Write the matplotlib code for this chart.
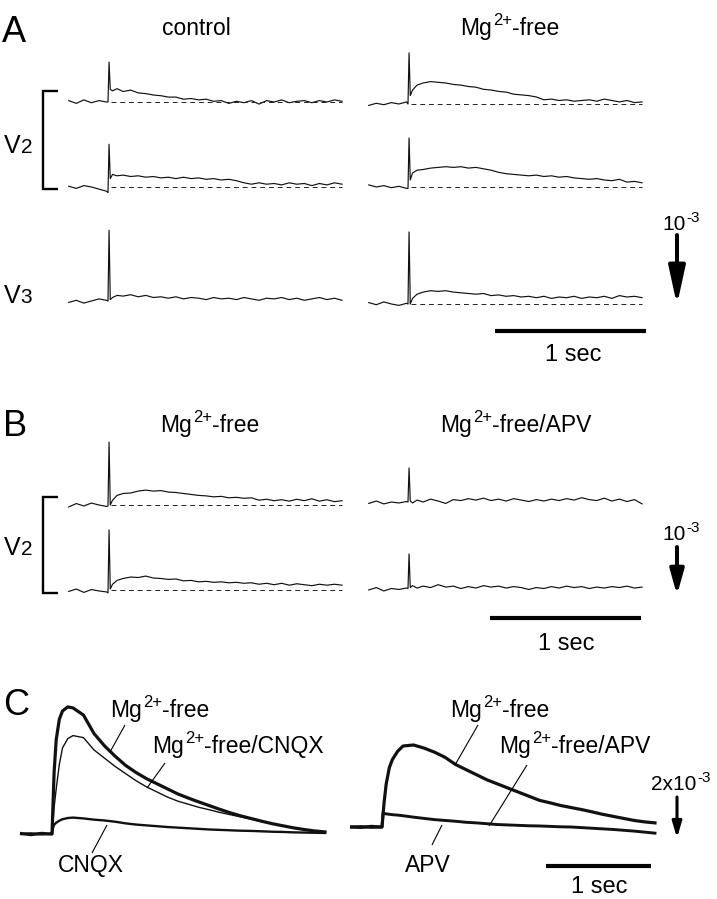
import matplotlib
matplotlib.use('Agg')
import matplotlib.pyplot as plt
from matplotlib.lines import Line2D

plt.rcParams['font.family'] = ['Liberation Sans', 'DejaVu Sans']

# ---------------- data (signal in units of 1e-3, time in s; stimulus at t=0) ----------------
T_AB = [-0.26, -0.21, -0.16, -0.11, -0.06, -0.01, 0.0, 0.007, 0.015, 0.03, 0.06,
        0.1, 0.15, 0.2, 0.25, 0.3, 0.35, 0.4, 0.45, 0.5, 0.55,
        0.6, 0.65, 0.7, 0.75, 0.8, 0.85, 0.9, 0.95, 1.0, 1.05,
        1.1, 1.15, 1.2, 1.25, 1.3, 1.35, 1.4, 1.45, 1.5, 1.55]

a_control_v2_top = [0.02, -0.02, 0.03, -0.01, 0.02, 0.0, 0.0, 0.57, 0.18, 0.16, 0.19,
                    0.15, 0.17, 0.13, 0.12, 0.10, 0.09, 0.07, 0.07, 0.04, 0.05,
                    0.03, 0.04, 0.01, 0.02, -0.02, 0.01, -0.01, 0.02, -0.03, 0.02,
                    0.0, 0.03, -0.01, 0.01, 0.02, -0.01, 0.02, 0.0, 0.03, 0.01]
a_control_v2_bot = [0.01, -0.02, 0.02, 0.0, -0.03, -0.06, -0.08, 0.61, 0.12, 0.18, 0.16,
                    0.17, 0.15, 0.16, 0.14, 0.15, 0.13, 0.14, 0.12, 0.14, 0.12,
                    0.13, 0.11, 0.12, 0.10, 0.11, 0.09, 0.06, 0.04, 0.06, 0.04,
                    0.05, 0.03, 0.06, 0.04, 0.05, 0.02, 0.05, 0.03, 0.06, 0.04]
a_control_v3 = [-0.02, 0.01, -0.03, 0.0, 0.03, 0.01, 0.0, 1.01, 0.02, 0.05, 0.08,
                0.07, 0.09, 0.06, 0.08, 0.05, 0.06, 0.04, 0.06, 0.03, 0.05,
                0.04, 0.02, 0.05, 0.03, 0.04, 0.02, 0.05, 0.03, 0.01, 0.04,
                0.03, 0.05, 0.02, 0.04, 0.01, 0.03, 0.05, 0.02, 0.04, 0.01]
a_mgfree_v2_top = [-0.02, 0.01, -0.01, 0.02, 0.0, 0.03, 0.0, 0.73, 0.12, 0.20, 0.27,
                   0.30, 0.32, 0.31, 0.30, 0.28, 0.27, 0.25, 0.24, 0.21, 0.20,
                   0.18, 0.17, 0.14, 0.13, 0.12, 0.10, 0.06, 0.07, 0.05, 0.06,
                   0.04, 0.05, 0.06, 0.04, 0.07, 0.05, 0.03, 0.05, 0.02, 0.03]
a_mgfree_v2_bot = [0.03, 0.0, 0.02, -0.01, 0.01, -0.02, -0.02, 0.70, 0.10, 0.20, 0.24,
                   0.25, 0.27, 0.28, 0.29, 0.28, 0.29, 0.27, 0.28, 0.26, 0.24,
                   0.21, 0.19, 0.18, 0.17, 0.16, 0.17, 0.15, 0.16, 0.14, 0.15,
                   0.13, 0.12, 0.11, 0.12, 0.10, 0.09, 0.11, 0.07, 0.08, 0.06]
a_mgfree_v3 = [0.02, -0.01, 0.03, 0.0, -0.02, 0.01, 0.0, 1.03, 0.0, 0.08, 0.14,
               0.17, 0.19, 0.18, 0.19, 0.17, 0.16, 0.15, 0.14, 0.15, 0.12,
               0.13, 0.11, 0.12, 0.10, 0.11, 0.09, 0.11, 0.08, 0.10, 0.09,
               0.11, 0.08, 0.10, 0.09, 0.11, 0.08, 0.12, 0.10, 0.11, 0.09]

b_mgfree_v2_top = [-0.04, 0.03, -0.02, 0.04, 0.0, -0.03, -0.02, 1.31, 0.0, 0.10, 0.20,
                   0.24, 0.25, 0.29, 0.31, 0.29, 0.30, 0.27, 0.26, 0.24, 0.22,
                   0.20, 0.19, 0.17, 0.18, 0.15, 0.16, 0.14, 0.15, 0.10, 0.12,
                   0.09, 0.11, 0.08, 0.12, 0.09, 0.13, 0.08, 0.11, 0.07, 0.09]
b_mgfree_v2_bot = [-0.03, 0.02, -0.05, 0.01, -0.02, -0.04, -0.06, 1.25, 0.02, 0.12, 0.20,
                   0.24, 0.27, 0.26, 0.29, 0.25, 0.24, 0.22, 0.23, 0.19, 0.20,
                   0.17, 0.18, 0.16, 0.17, 0.15, 0.16, 0.14, 0.15, 0.12, 0.14,
                   0.11, 0.14, 0.10, 0.13, 0.11, 0.09, 0.12, 0.10, 0.12, 0.10]
b_apv_v2_top = [-0.03, 0.02, -0.04, 0.0, -0.02, 0.01, 0.0, 0.71, 0.02, -0.02, 0.04,
                0.0, 0.06, 0.02, -0.03, 0.05, 0.03, 0.07, 0.04, 0.08, 0.03,
                0.06, 0.02, 0.07, 0.04, 0.01, 0.05, 0.02, 0.06, 0.03, 0.07,
                0.04, 0.09, 0.05, 0.03, 0.08, 0.02, 0.06, 0.01, 0.05, -0.04]
b_apv_v2_bot = [-0.02, 0.03, -0.04, 0.01, -0.01, 0.02, 0.01, 0.73, 0.03, 0.07, 0.02,
                0.06, 0.03, 0.09, 0.04, 0.06, 0.01, 0.05, 0.02, 0.07, 0.04,
                0.06, 0.02, 0.05, 0.03, -0.01, 0.03, 0.01, 0.05, 0.02, 0.06,
                0.03, 0.05, 0.01, 0.04, 0.02, 0.05, 0.03, 0.06, 0.02, 0.04]

T_C = [-0.29, -0.2, -0.1, -0.02, 0.0, 0.01, 0.02, 0.04, 0.07, 0.1, 0.15, 0.2,
       0.3, 0.4, 0.5, 0.6, 0.7, 0.8, 0.9, 1.0, 1.1, 1.2, 1.3, 1.4,
       1.5, 1.6, 1.7, 1.8, 1.9, 2.0, 2.1, 2.2, 2.3, 2.4, 2.5, 2.6]
c_mgfree_l = [0.02, -0.03, 0.03, 0.0, 0.0, 1.5, 3.0, 4.6, 5.6, 6.0, 6.2, 6.15,
              5.8, 4.9, 4.3, 3.8, 3.35, 3.0, 2.7, 2.45, 2.2, 1.95, 1.75, 1.56,
              1.38, 1.2, 1.03, 0.88, 0.75, 0.62, 0.5, 0.4, 0.3, 0.22, 0.15, 0.1]
c_mgfree_cnqx = [0.0, 0.02, -0.02, 0.0, 0.0, 0.6, 1.3, 2.2, 3.4, 4.2, 4.65, 4.8,
                 4.7, 4.1, 3.7, 3.3, 2.95, 2.6, 2.3, 2.05, 1.8, 1.6, 1.45, 1.3,
                 1.18, 1.05, 0.94, 0.83, 0.72, 0.6, 0.5, 0.4, 0.3, 0.22, 0.14, 0.08]
c_cnqx = [0.0, 0.03, -0.02, 0.01, 0.0, 0.3, 0.45, 0.55, 0.65, 0.72, 0.78, 0.8,
          0.76, 0.7, 0.66, 0.6, 0.52, 0.46, 0.42, 0.38, 0.34, 0.31, 0.28, 0.25,
          0.22, 0.2, 0.18, 0.16, 0.15, 0.13, 0.11, 0.1, 0.08, 0.07, 0.06, 0.05]
c_mgfree_r = [0.0, -0.02, 0.03, 0.0, 0.0, 0.6, 1.2, 2.1, 2.9, 3.3, 3.7, 3.95,
              4.0, 3.85, 3.65, 3.4, 3.05, 2.8, 2.55, 2.3, 2.1, 1.9, 1.7, 1.5,
              1.3, 1.18, 1.05, 0.95, 0.85, 0.74, 0.62, 0.52, 0.42, 0.32, 0.25, 0.2]
c_mgfree_apv = [0.0, 0.02, -0.02, 0.0, 0.0, 0.68, 0.66, 0.64, 0.62, 0.6, 0.58, 0.55,
                0.48, 0.42, 0.36, 0.32, 0.28, 0.23, 0.2, 0.16, 0.12, 0.1, 0.08, 0.06,
                0.05, 0.03, 0.01, 0.0, -0.03, -0.06, -0.09, -0.12, -0.16, -0.2, -0.25, -0.3]

SCALE_T = 1.0        # s
SCALE_AB = 1.0       # x1e-3
SCALE_C = 2.0        # x1e-3

# ---------------- layout ----------------
W, H = 717, 899
fig = plt.figure(figsize=(W / 100, H / 100), dpi=100)
fig.patch.set_facecolor('white')
renderer = fig.canvas.get_renderer()


def trace_axes(stim_px, base_px, px_per_s, px_per_unit):
    ax = fig.add_axes([0, 0, 1, 1])
    ax.set_xlim(-stim_px / px_per_s, (W - stim_px) / px_per_s)
    ax.set_ylim((base_px - H) / px_per_unit, base_px / px_per_unit)
    ax.set_axis_off()
    ax.patch.set_alpha(0)
    ax.px = (stim_px, base_px, px_per_s, px_per_unit)
    return ax


def tx(ax, x):
    s, b, ps, pu = ax.px
    return (x - s) / ps


def vy(ax, y):
    s, b, ps, pu = ax.px
    return (b - y) / pu


def ftext(x, y, s, size, ha='left', va='baseline'):
    return fig.text(x / W, 1 - y / H, s, fontsize=size, ha=ha, va=va, color='black')


def text_width(s, size):
    if not s:
        return 0.0
    t = fig.text(0, 0, s, fontsize=size)
    w = t.get_window_extent(renderer).width
    t.remove()
    return w


def sup_text(x_center, y, pre, sup, post, size=16.5, sup_size=12, raise_px=10, gap=1.0):
    """Text with a raised superscript, built from plain text pieces."""
    w1 = text_width(pre, size)
    w2 = text_width(sup, sup_size)
    w3 = text_width(post, size)
    total = w1 + gap + w2 + w3
    x0 = x_center - total / 2
    ftext(x0, y, pre, size)
    ftext(x0 + w1 + gap, y - raise_px, sup, sup_size)
    if post:
        ftext(x0 + w1 + gap + w2, y, post, size)


def fline(xs, ys, lw):
    fig.add_artist(Line2D([x / W for x in xs], [1 - y / H for y in ys],
                          transform=fig.transFigure, color='black', lw=lw,
                          solid_capstyle='butt', solid_joinstyle='miter'))


TRACE_LW = 0.85
DASH = (0, (5, 4))

# panel A and B traces: (stim_px, baseline_px, px/unit, values, dashed)
rows_ab = [
    (108, 102, 70, a_control_v2_top, True),
    (108, 187, 70, a_control_v2_bot, True),
    (108, 301, 70, a_control_v3, False),
    (408, 104, 70, a_mgfree_v2_top, True),
    (408, 187, 70, a_mgfree_v2_bot, True),
    (408, 304, 70, a_mgfree_v3, True),
    (108, 505, 48, b_mgfree_v2_top, True),
    (108, 590, 48, b_mgfree_v2_bot, True),
    (408, 502, 48, b_apv_v2_top, False),
    (408, 589, 48, b_apv_v2_bot, False),
]
axes_ab = []
for stim, base, pu, vals, dashed in rows_ab:
    ax = trace_axes(stim, base, 151, pu)
    ax.plot(T_AB, vals, color='#111111', lw=TRACE_LW)
    if dashed:
        ax.plot([0.02, T_AB[-1]], [0, 0], color='#222222', lw=0.7, ls=DASH)
    axes_ab.append(ax)

# panel C
axc_l = trace_axes(52, 834, 105, 20.5)
axc_l.plot(T_C, c_cnqx, color='#111111', lw=1.7)
axc_l.plot(T_C, c_mgfree_cnqx, color='#111111', lw=1.0)
axc_l.plot(T_C, c_mgfree_l, color='#111111', lw=2.3)
axc_r = trace_axes(382, 827, 105, 20.5)
axc_r.plot(T_C, c_mgfree_apv, color='#111111', lw=2.1)
axc_r.plot(T_C, c_mgfree_r, color='#111111', lw=2.3)


def scale_bar(ax, x0_px, y_px, lw):
    t0 = tx(ax, x0_px)
    v = vy(ax, y_px)
    ax.plot([t0, t0 + SCALE_T], [v, v], color='black', lw=lw,
            solid_capstyle='butt', clip_on=False)


def scale_arrow(ax, x_px, tip_px, length, hl, hw, lw):
    t = tx(ax, x_px)
    tip = vy(ax, tip_px)
    ax.annotate('', xy=(t, tip), xytext=(t, tip + length),
                arrowprops=dict(arrowstyle=f'-|>,head_length={hl},head_width={hw}',
                                lw=lw, color='black', shrinkA=0, shrinkB=0,
                                mutation_scale=10))


# A scale
scale_bar(axes_ab[5], 495, 331, 3.0)
scale_arrow(axes_ab[5], 677, 305, SCALE_AB, 2.3, 0.5, 2.9)
# B scale
scale_bar(axes_ab[9], 490, 618, 3.0)
scale_arrow(axes_ab[9], 677, 595, SCALE_AB, 1.5, 0.42, 2.9)
# C scale
scale_bar(axc_r, 546, 866, 3.0)
scale_arrow(axc_r, 677, 838, SCALE_C, 0.95, 0.28, 2.2)

# brackets
fline([58, 43, 43, 58], [91, 91, 189, 189], 1.7)
fline([58, 43, 43, 58], [497, 497, 593, 593], 1.7)

# C leader lines
fline([125, 110], [725, 752], 0.8)
fline([165, 147], [763, 788], 0.8)
fline([92, 107], [853, 825], 0.8)
fline([478, 455], [725, 765], 0.8)
fline([527, 489], [765, 826], 0.8)
fline([432, 442], [845, 825], 0.8)

# texts
ftext(2, 42, 'A', 26)
ftext(196, 35, 'control', 16.5, ha='center')
sup_text(510, 35, 'Mg', '2+', '-free')
ftext(4, 153, 'V', 18)
ftext(20.5, 153, '2', 15)
ftext(4, 303, 'V', 18)
ftext(20.5, 303, '3', 15)
sup_text(681, 230, '10', '-3', '', 15, 11, 8)
ftext(573, 361, '1 sec', 17, ha='center')

ftext(3, 436, 'B', 26)
sup_text(210, 432, 'Mg', '2+', '-free')
sup_text(516, 432, 'Mg', '2+', '-free/APV')
ftext(4, 555, 'V', 18)
ftext(20.5, 555, '2', 15)
sup_text(681, 540, '10', '-3', '', 15, 11, 8)
ftext(566, 650, '1 sec', 17, ha='center')

ftext(3, 715, 'C', 26)
sup_text(160, 717, 'Mg', '2+', '-free')
sup_text(238, 753, 'Mg', '2+', '-free/CNQX')
ftext(91, 872, 'CNQX', 16.5, ha='center')
sup_text(500, 717, 'Mg', '2+', '-free')
sup_text(575, 753, 'Mg', '2+', '-free/APV')
ftext(428, 872, 'APV', 16.5, ha='center')
sup_text(681, 790, '2x10', '-3', '', 15, 11, 8)
ftext(599, 893, '1 sec', 17, ha='center')

fig.savefig('out.png', dpi=100, facecolor='white')
